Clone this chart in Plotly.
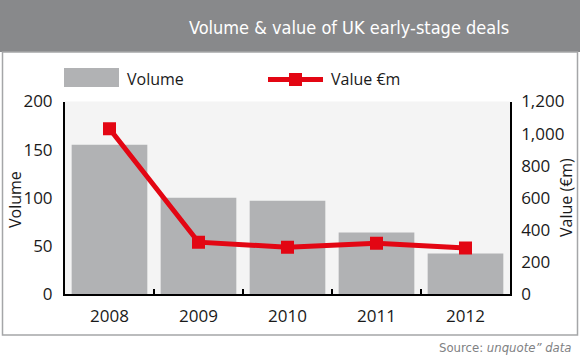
import plotly.graph_objects as go

years = ["2008", "2009", "2010", "2011", "2012"]
volume = [155, 100, 97, 64, 42]
value_em = [1030, 323, 292, 317, 286]

W, H = 580, 358
def px(x):
    return x / W
def py(y):
    return 1 - y / H

BAR = "#b1b2b4"
RED = "#e30613"
FONT = "Open Sans"
NARROW = "DejaVu Sans Condensed"

fig = go.Figure()
fig.add_trace(go.Bar(x=years, y=volume, marker=dict(color=BAR, line=dict(width=0)),
                     yaxis="y", showlegend=False, hoverinfo="skip"))
fig.add_trace(go.Scatter(x=years, y=value_em, yaxis="y2", mode="lines+markers",
                         line=dict(color=RED, width=5),
                         marker=dict(symbol="square", size=13, color=RED),
                         showlegend=False, hoverinfo="skip"))

shapes = [
    dict(type="rect", xref="paper", yref="paper", x0=0, x1=1, y0=py(52), y1=1,
         fillcolor="#88898b", line=dict(width=0), layer="below"),
    dict(type="rect", xref="paper", yref="paper", x0=px(2.5), x1=px(577.5), y0=py(335), y1=py(52),
         fillcolor="rgba(0,0,0,0)", line=dict(color="#a5a6a8", width=1.5), layer="below"),
    dict(type="rect", xref="paper", yref="paper", x0=px(64), x1=px(119), y0=py(87), y1=py(68),
         fillcolor=BAR, line=dict(width=0)),
    dict(type="line", xref="paper", yref="paper", x0=px(268), x1=px(323), y0=py(79.5), y1=py(79.5),
         line=dict(color=RED, width=5)),
    dict(type="rect", xref="paper", yref="paper", x0=px(289), x1=px(302), y0=py(86), y1=py(73),
         fillcolor=RED, line=dict(width=0)),
]

annotations = [
    dict(text="Volume &amp; value of UK early-stage deals", xref="paper", yref="paper",
         x=px(511), y=py(27), xanchor="right", yanchor="middle", showarrow=False,
         font=dict(family=NARROW, size=18, color="white")),
    dict(text="Source: <i>unquote\u201d data</i>", xref="paper", yref="paper",
         x=px(574), y=py(347), xanchor="right", yanchor="middle", showarrow=False,
         font=dict(family=NARROW, size=13, color="#808183")),
    dict(text="Volume", xref="paper", yref="paper", x=px(125), y=py(79), xanchor="left",
         yanchor="middle", showarrow=False, font=dict(family=FONT, size=16, color="#1a1a1a")),
    dict(text="Value \u20acm", xref="paper", yref="paper", x=px(329), y=py(79), xanchor="left",
         yanchor="middle", showarrow=False, font=dict(family=FONT, size=16, color="#1a1a1a")),
    dict(text="Volume", xref="paper", yref="paper", x=px(15), y=py(200), xanchor="center",
         yanchor="middle", textangle=-90, showarrow=False, font=dict(family=FONT, size=16, color="#1a1a1a")),
    dict(text="Value (\u20acm)", xref="paper", yref="paper", x=px(566), y=py(198), xanchor="center",
         yanchor="middle", textangle=-90, showarrow=False, font=dict(family=FONT, size=16, color="#1a1a1a")),
]

tickfont = dict(family=FONT, size=17, color="#1a1a1a")
fig.update_layout(
    width=W, height=H, autosize=False,
    margin=dict(l=0, r=0, t=0, b=0, pad=0),
    paper_bgcolor="white", plot_bgcolor="#f4f4f4",
    bargap=0.15,
    xaxis=dict(domain=[px(65), px(510)], type="category", showline=True, linecolor="black", linewidth=2,
               ticks="inside", tickson="boundaries", ticklen=5, tickcolor="black", tickwidth=1.5,
               tickfont=tickfont, showgrid=False, zeroline=False, ticklabelstandoff=6,
               automargin=False),
    yaxis=dict(domain=[py(294), py(101.5)], range=[0, 200], dtick=50, showline=True, linecolor="black",
               linewidth=2, showgrid=False, zeroline=False, ticks="", tickfont=tickfont,
               ticklabelstandoff=7, automargin=False),
    yaxis2=dict(overlaying="y", side="right", range=[0, 1200], dtick=200, tickformat=",",
                showline=True, linecolor="black", linewidth=1.5, showgrid=False, zeroline=False,
                ticks="", tickfont=tickfont, ticklabelstandoff=6, anchor="x", automargin=False),
    shapes=shapes, annotations=annotations,
)

fig.write_html("out.html", config={"displayModeBar": False},
               post_script="document.documentElement.style.margin='0';document.body.style.margin='0';document.body.style.padding='0';document.body.style.overflow='hidden';")
